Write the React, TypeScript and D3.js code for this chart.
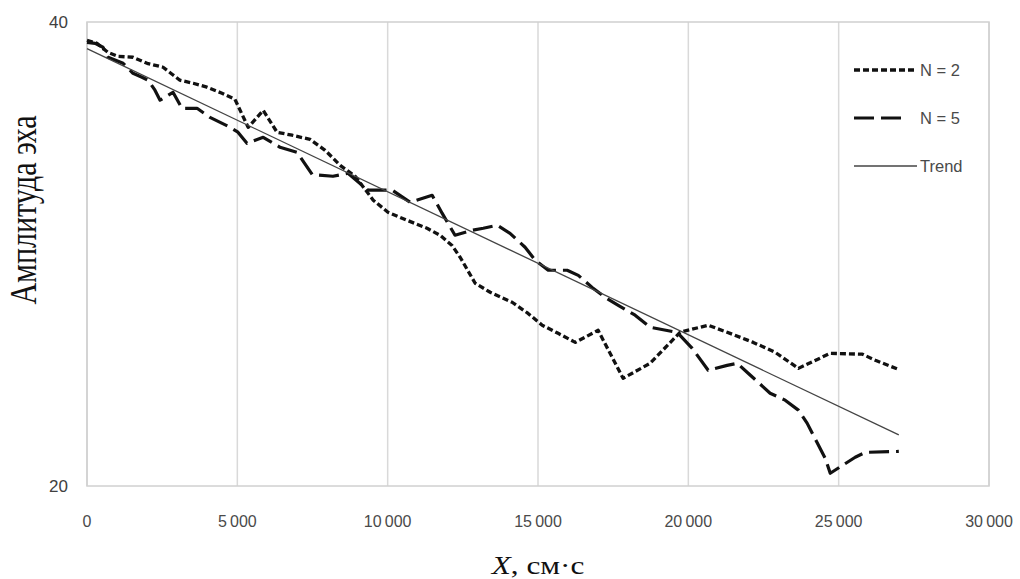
import * as d3 from "d3";

// N = 2 (short dashes)
const n2X = [0, 330, 700, 1030, 1530, 2000, 2530, 2830, 3090, 3530, 3990, 4490, 4920, 5360, 5860, 6320, 6820, 7420, 7920, 8420, 8920, 9520, 10010, 10650, 11310, 11740, 12140, 12410, 12910, 13410, 14140, 14670, 15140, 15670, 16240, 17000, 17830, 18730, 19730, 20660, 21390, 22160, 22890, 23660, 24720, 25790, 26220, 27000];
const n2Y = [39.21, 39.08, 38.69, 38.52, 38.48, 38.22, 38.05, 37.75, 37.49, 37.36, 37.19, 36.93, 36.67, 35.46, 36.19, 35.25, 35.12, 34.94, 34.47, 33.82, 33.35, 32.32, 31.8, 31.45, 31.11, 30.81, 30.37, 29.86, 28.74, 28.35, 27.92, 27.44, 26.93, 26.58, 26.19, 26.71, 24.64, 25.29, 26.63, 26.93, 26.58, 26.19, 25.76, 25.07, 25.72, 25.68, 25.42, 25.02];

// N = 5 (long dashes)
const n5X = [0, 270, 530, 700, 1200, 1530, 1830, 2030, 2260, 2430, 2860, 3160, 3660, 4090, 4760, 5020, 5320, 5860, 6420, 6990, 7490, 8180, 8680, 9350, 10150, 10750, 11480, 11810, 12240, 12810, 13180, 13640, 14070, 14570, 14910, 15340, 15970, 16340, 16800, 17230, 17670, 18230, 18730, 19630, 20130, 20660, 21290, 21630, 21990, 22720, 23220, 23660, 23950, 24550, 24720, 25550, 25890, 27000];
const n5Y = [39.12, 39.08, 38.91, 38.48, 38.22, 37.79, 37.62, 37.49, 37.06, 36.63, 36.97, 36.28, 36.28, 35.89, 35.46, 35.25, 34.77, 35.03, 34.6, 34.38, 33.43, 33.35, 33.48, 32.75, 32.75, 32.23, 32.53, 31.76, 30.81, 31.02, 31.11, 31.24, 30.89, 30.29, 29.73, 29.3, 29.3, 29.08, 28.56, 28.13, 27.79, 27.36, 26.84, 26.62, 25.93, 24.99, 25.2, 25.29, 24.86, 24.0, 23.7, 23.27, 22.71, 21.2, 20.55, 21.24, 21.45, 21.49];

// linear trend, end points
const trendX = [0, 27000];
const trendY = [38.85, 22.2];

const xTicks = [0, 5000, 10000, 15000, 20000, 25000, 30000];
const yTicks = [20, 40];
const legendLabels = ["N = 2", "N = 5", "Trend"];

const W = 1020;
const H = 579;
const margin = { top: 22, right: 31, bottom: 93, left: 87 };

const fmt = (v: number) => d3.format(",")(v).replace(/,/g, "\u2009");

export default function App() {
  const x = d3.scaleLinear().domain([0, 30000]).range([margin.left, W - margin.right]);
  const y = d3.scaleLinear().domain([20, 40]).range([H - margin.bottom, margin.top]);

  const line = d3
    .line<[number, number]>()
    .x((d) => x(d[0]))
    .y((d) => y(d[1]));

  const zip = (xs: number[], ys: number[]) => xs.map((v, i) => [v, ys[i]] as [number, number]);

  const series = [
    { pts: zip(n2X, n2Y), dash: "6,3", width: 3.3, color: "#111" },
    { pts: zip(n5X, n5Y), dash: "20,7", width: 3.2, color: "#111" },
    { pts: zip(trendX, trendY), dash: null, width: 1.3, color: "#444" },
  ];

  const tickFont = "'Liberation Sans', Arial, sans-serif";
  const plotBottom = H - margin.bottom;

  return (
    <svg width={W} height={H} style={{ position: "absolute", left: 0, top: 0, background: "#fff" }}>
      {/* vertical gridlines */}
      {xTicks.map((t) => (
        <line key={t} x1={x(t)} x2={x(t)} y1={margin.top} y2={plotBottom} stroke="#d9d9d9" strokeWidth={1.5} />
      ))}
      {/* plot frame */}
      <rect
        x={margin.left}
        y={margin.top}
        width={W - margin.right - margin.left}
        height={plotBottom - margin.top}
        fill="none"
        stroke="#d0d0d0"
        strokeWidth={1.5}
      />

      {series.map((s, i) => (
        <path
          key={i}
          d={line(s.pts) || ""}
          fill="none"
          stroke={s.color}
          strokeWidth={s.width}
          strokeDasharray={s.dash || undefined}
          strokeLinejoin="round"
        />
      ))}

      {/* x tick labels */}
      {xTicks.map((t) => (
        <text key={t} x={x(t)} y={plotBottom + 41} textAnchor="middle" fontFamily={tickFont} fontSize={16} fill="#4a4a4a">
          {fmt(t)}
        </text>
      ))}
      {/* y tick labels */}
      {yTicks.map((t) => (
        <text key={t} x={margin.left - 19} y={y(t)} dy="0.35em" textAnchor="end" fontFamily={tickFont} fontSize={17} fill="#404040">
          {t}
        </text>
      ))}

      {/* legend */}
      {series.map((s, i) => {
        const ly = 70 + i * 48;
        const x2 = i === 1 ? 905 : 917;
        return (
          <g key={i}>
            <line
              x1={854}
              x2={x2}
              y1={ly}
              y2={ly}
              stroke={s.color}
              strokeWidth={s.width}
              strokeDasharray={s.dash || undefined}
            />
            <text x={920} y={ly} dy="0.35em" fontFamily={tickFont} fontSize={16.5} fill="#4a4a4a">
              {legendLabels[i]}
            </text>
          </g>
        );
      })}

      {/* axis titles */}
      <text
        transform={`translate(36,210) scale(1.25,1) rotate(-90)`}
        textAnchor="middle"
        fontFamily="'Liberation Serif', 'Times New Roman', serif"
        fontSize={30}
        fill="#111"
      >
        Амплитуда эха
      </text>
      <text
        transform={`translate(538,574) scale(1.25,1)`}
        textAnchor="middle"
        fontFamily="'Liberation Serif', 'Times New Roman', serif"
        fontSize={25}
        fill="#111"
      >
        <tspan fontStyle="italic">X</tspan>, см·с
      </text>
    </svg>
  );
}
